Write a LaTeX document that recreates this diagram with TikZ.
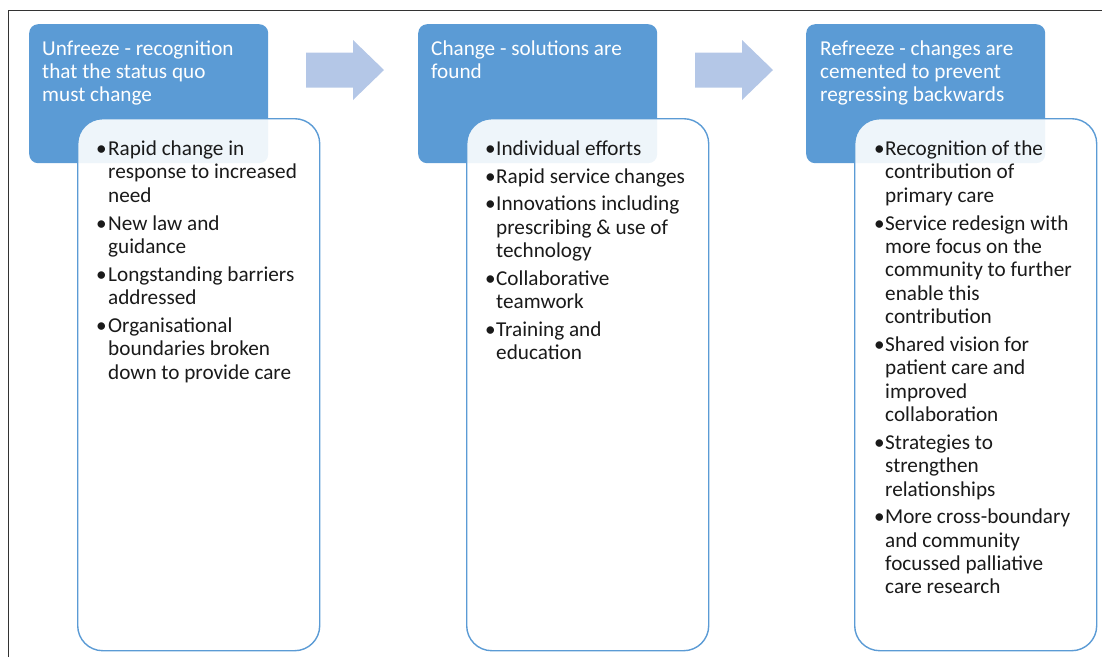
\documentclass[tikz,border=0pt]{standalone}
\usepackage{fontspec}
\setmainfont{Carlito}
\usepackage{array}
\definecolor{hdrblue}{HTML}{5B9BD5}
\definecolor{arrowblue}{HTML}{B4C7E7}
\definecolor{txtdark}{HTML}{1A1A1A}
\definecolor{framegray}{HTML}{333333}
\begin{document}
\begin{tikzpicture}[x=1pt,y=-1pt,
  hdr/.style={fill=hdrblue, draw=none, rounded corners=9pt, minimum width=239pt, minimum height=139pt, anchor=north west, inner sep=0pt},
  card/.style={fill=white, fill opacity=0.9, draw=hdrblue, line width=1.4pt, rounded corners=25pt, minimum width=242pt, minimum height=532pt, anchor=north west, inner sep=0pt},
  hdrtext/.style={text=white, anchor=base west, inner sep=0pt, font=\fontsize{21.2}{23.4}\selectfont},
  listtext/.style={text=txtdark, anchor=base west, inner sep=0pt, font=\fontsize{21.2}{23.4}\selectfont},
  blockarrow/.style={fill=arrowblue, draw=none}]
\useasboundingbox (0,0) rectangle (1102,657);
% frame
\draw[framegray, line width=0.9pt] (8.5,657) -- (8.5,10.5) -- (1102,10.5);
% arrows
\foreach \ax in {306,695}{
  \fill[blockarrow] (\ax,52.5) -- (\ax+47,52.5) -- (\ax+47,40) -- (\ax+78,70) -- (\ax+47,100) -- (\ax+47,87.5) -- (\ax,87.5) -- cycle;
}
% header boxes
\node[hdr] (h1) at (29,24) {};
\node[hdr] (h2) at (418,24) {};
\node[hdr] (h3) at (806,24) {};
% cards
\node[card] (c1) at (77,118) {};
\node[card] (c2) at (466,118) {};
\node[card] (c3) at (854,118) {};
% header texts
\node[hdrtext] (t1) at (42,55) {\begin{tabular}[t]{@{}l@{}}Unfreeze - recognition\\that the status quo\\must change\end{tabular}};
\node[hdrtext] (t2) at (431,55) {\begin{tabular}[t]{@{}l@{}}Change - solutions are\\found\end{tabular}};
\node[hdrtext] (t3) at (820,55) {\begin{tabular}[t]{@{}l@{}}Refreeze - changes are\\cemented to prevent\\regressing backwards\end{tabular}};
% lists
\node[listtext] (l1) at (96,155.5) {\begin{tabular}[t]{@{}p{12pt}@{}l@{}}
•&Rapid change in\\
&response to increased\\
&need\\[4.3pt]
•&New law and\\
&guidance\\[4.3pt]
•&Longstanding barriers\\
&addressed\\[4.3pt]
•&Organisational\\
&boundaries broken\\
&down to provide care
\end{tabular}};
\node[listtext] (l2) at (485,155.5) {\begin{tabular}[t]{@{}p{11pt}@{}l@{}}
•&Individual efforts\\[4.3pt]
•&Rapid service changes\\[4.3pt]
•&Innovations including\\
&prescribing \& use of\\
&technology\\[4.3pt]
•&Collaborative\\
&teamwork\\[4.3pt]
•&Training and\\
&education
\end{tabular}};
\node[listtext] (l3) at (874,155.5) {\begin{tabular}[t]{@{}p{11pt}@{}l@{}}
•&Recognition of the\\
&contribution of\\
&primary care\\[4.3pt]
•&Service redesign with\\
&more focus on the\\
&community to further\\
&enable this\\
&contribution\\[4.3pt]
•&Shared vision for\\
&patient care and\\
&improved\\
&collaboration\\[4.3pt]
•&Strategies to\\
&strengthen\\
&relationships\\[4.3pt]
•&More cross-boundary\\
&and community\\
&focussed palliative\\
&care research
\end{tabular}};
\end{tikzpicture}
\end{document}
